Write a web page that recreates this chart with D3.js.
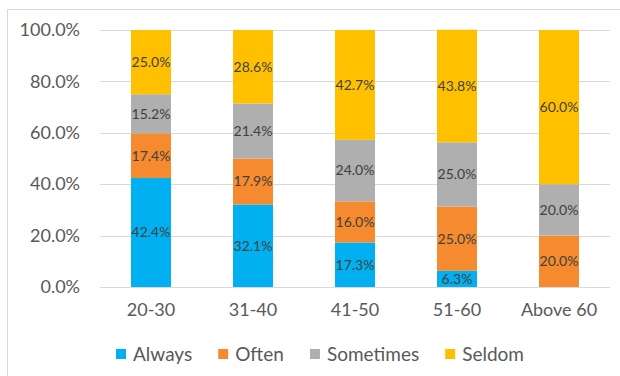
<!DOCTYPE html>
<html>
<head>
<meta charset="utf-8">
<script src="https://cdn.jsdelivr.net/npm/d3@7"></script>
<style>
  html, body { margin: 0; padding: 0; background: #fff; }
  svg { display: block; font-family: Lato, "Open Sans", sans-serif; }
</style>
</head>
<body>
<svg id="chart" width="620" height="376"></svg>
<script>
// Age groups on the x axis
const categories = ["20-30", "31-40", "41-50", "51-60", "Above 60"];
// Share of respondents (%) per frequency, stacked bottom to top
const seriesNames = ["Always", "Often", "Sometimes", "Seldom"];
const always    = [42.4, 32.1, 17.3, 6.3, 0];
const often     = [17.4, 17.9, 16.0, 25.0, 20.0];
const sometimes = [15.2, 21.4, 24.0, 25.0, 20.0];
const seldom    = [25.0, 28.6, 42.7, 43.8, 60.0];
const yTicks = [0, 20, 40, 60, 80, 100];
const colors = ["#00B0F0", "#F58A2E", "#AFAFAF", "#FFC000"];

const seriesValues = [always, often, sometimes, seldom];
const rows = categories.map((c, i) => {
  const r = { cat: c };
  seriesNames.forEach((s, k) => { r[s] = seriesValues[k][i]; });
  return r;
});

const svg = d3.select("#chart");

// chart area frame
svg.append("rect")
  .attr("x", 7.5).attr("y", 9.5)
  .attr("width", 640).attr("height", 400)
  .attr("fill", "none").attr("stroke", "#D9D9D9");

const plotLeft = 100, plotRight = 610, plotTop = 30, plotBottom = 287;

const x = d3.scaleBand().domain(categories).range([plotLeft, plotRight]).paddingInner(0.608).paddingOuter(0.304);
const y = d3.scaleLinear().domain([0, 100]).range([plotBottom, plotTop]);

// horizontal gridlines
svg.append("g").selectAll("line").data(yTicks).join("line")
  .attr("x1", plotLeft).attr("x2", plotRight)
  .attr("y1", d => Math.round(y(d)) + 0.5).attr("y2", d => Math.round(y(d)) + 0.5)
  .attr("stroke", "#D9D9D9").attr("stroke-width", 1);

// y axis labels
const yAxis = svg.append("g")
  .attr("transform", `translate(${plotLeft},0)`)
  .call(d3.axisLeft(y).tickValues(yTicks).tickFormat(d => d.toFixed(1) + "%").tickSize(0).tickPadding(20));
yAxis.select(".domain").remove();
yAxis.selectAll("text").attr("font-size", 18).attr("fill", "#595959").attr("font-family", "Lato, sans-serif");

// x axis labels
const xAxis = svg.append("g")
  .attr("transform", `translate(0,${plotBottom})`)
  .call(d3.axisBottom(x).tickSize(0).tickPadding(16));
xAxis.select(".domain").remove();
xAxis.selectAll("text").attr("font-size", 18).attr("fill", "#595959").attr("font-family", "Lato, sans-serif");

// stacked bars
const stack = d3.stack().keys(seriesNames)(rows);
const layers = svg.append("g").selectAll("g").data(stack).join("g")
  .attr("fill", (d, i) => colors[i]);

layers.selectAll("rect").data(d => d).join("rect")
  .attr("x", d => x(d.data.cat))
  .attr("width", x.bandwidth())
  .attr("y", d => y(d[1]))
  .attr("height", d => y(d[0]) - y(d[1]));

// value labels centred in each segment
layers.selectAll("text").data(d => d.filter(s => s[1] - s[0] > 0)).join("text")
  .attr("x", d => x(d.data.cat) + x.bandwidth() / 2)
  .attr("y", d => (y(d[0]) + y(d[1])) / 2)
  .attr("dy", "0.35em")
  .attr("text-anchor", "middle")
  .attr("font-size", 14)
  .attr("fill", "#404040")
  .text(d => (d[1] - d[0]).toFixed(1) + "%");

// legend
const legend = svg.append("g").attr("transform", "translate(0,354)");
const items = legend.selectAll("g").data(seriesNames).join("g");
items.append("rect").attr("width", 10).attr("height", 10).attr("y", -5)
  .attr("fill", (d, i) => colors[i]);
items.append("text").attr("x", 17).attr("dy", "0.35em")
  .attr("font-size", 19).attr("fill", "#595959").text(d => d);
const gap = 26;
const widths = [];
items.each(function () { widths.push(this.getBBox().width); });
const total = d3.sum(widths) + gap * (widths.length - 1);
let cx = 320 - total / 2;
items.attr("transform", (d, i) => {
  const t = `translate(${cx},0)`;
  cx += widths[i] + gap;
  return t;
});
</script>
</body>
</html>
